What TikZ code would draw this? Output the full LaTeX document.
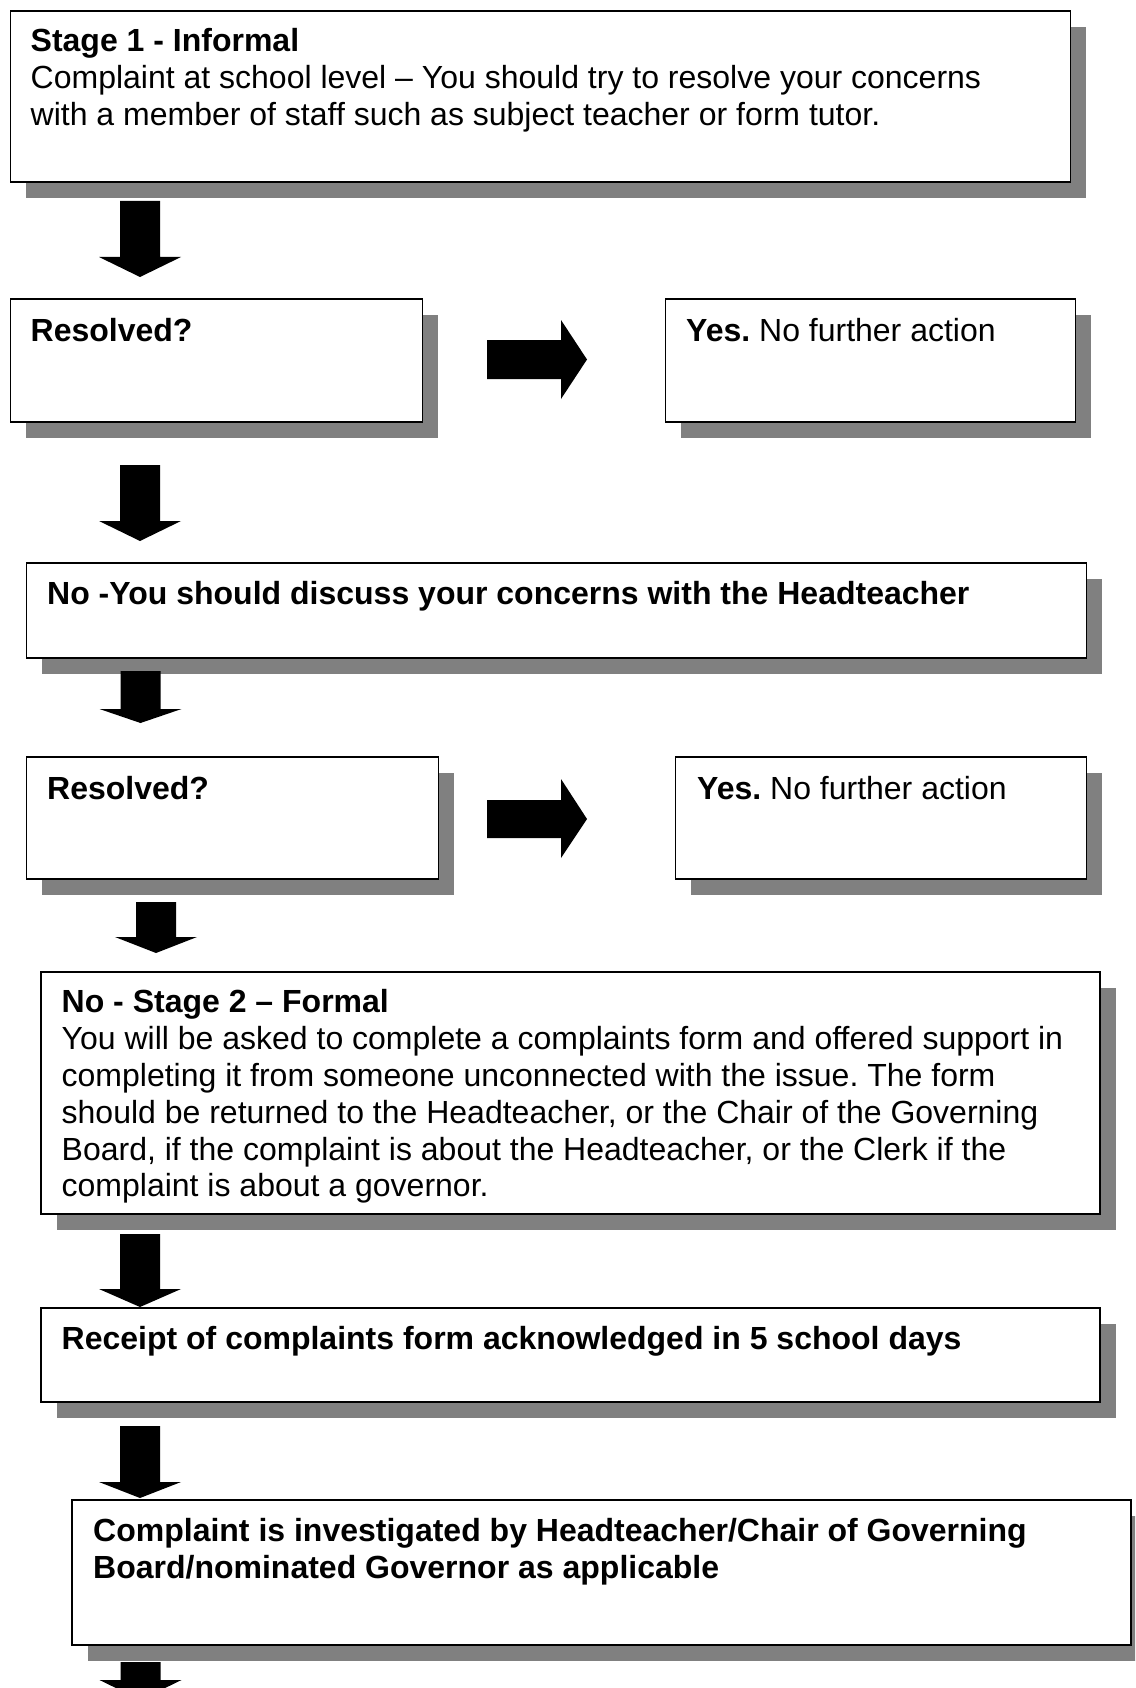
\documentclass[tikz,border=0pt]{standalone}
\usepackage{fontspec}
\setmainfont{Liberation Sans}
\usetikzlibrary{shadows}
\definecolor{shadowgray}{RGB}{128,128,128}
\frenchspacing
\tikzset{
  box/.style={draw=black, line width=1.6pt, fill=white, anchor=north west, inner sep=0pt,
    drop shadow={shadow xshift=16pt, shadow yshift=-16pt, fill=shadowgray, opacity=1}},
  txt/.style={anchor=north west, inner sep=0pt, align=left, font=\fontsize{32}{36.8}\selectfont},
  blockarrow/.style={fill=black, draw=none}
}
\begin{document}
\begin{tikzpicture}[x=1pt,y=-1pt]
\useasboundingbox (0,0) rectangle (1135,1688);
\clip (0,0) rectangle (1135,1688);
% boxes
\node[box, minimum width=1060pt, minimum height=171pt] (b1) at (9.5,10) {};
\node[box, minimum width=412pt, minimum height=123pt] (r1) at (9.5,298) {};
\node[box, minimum width=410pt, minimum height=123pt] (y1) at (664.5,298) {};
\node[box, minimum width=1060pt, minimum height=95pt] (h) at (25.5,562) {};
\node[box, minimum width=412pt, minimum height=122pt] (r2) at (25.5,756) {};
\node[box, minimum width=411pt, minimum height=122pt] (y2) at (674.5,756) {};
\node[box, minimum width=1059pt, minimum height=242pt] (s2) at (40,971) {};
\node[box, minimum width=1059pt, minimum height=94pt] (rc) at (40,1307) {};
\node[box, minimum width=1059pt, minimum height=145pt] (ci) at (71,1499) {};
% texts
\node[txt] (b1t) at (30.5,28.5) {\textbf{Stage 1 - Informal}\\Complaint at school level – You should try to resolve your concerns\\with a member of staff such as subject teacher or form tutor.};
\node[txt] (r1t) at (30.5,318) {\textbf{Resolved?}};
\node[txt] (y1t) at (686,318) {\textbf{Yes.} No further action};
\node[txt] (ht) at (47,581.5) {\textbf{No -You should discuss your concerns with the Headteacher}};
\node[txt] (r2t) at (47,776.5) {\textbf{Resolved?}};
\node[txt] (y2t) at (697,776.5) {\textbf{Yes.} No further action};
\node[txt] (s2t) at (61.5,989.5) {\textbf{No - Stage 2 – Formal}\\You will be asked to complete a complaints form and offered support in\\completing it from someone unconnected with the issue. The form\\should be returned to the Headteacher, or the Chair of the Governing\\Board, if the complaint is about the Headteacher, or the Clerk if the\\complaint is about a governor.};
\node[txt] (rct) at (61.5,1326.5) {\textbf{Receipt of complaints form acknowledged in 5 school days}};
\node[txt] (cit) at (93,1518) {\textbf{Complaint is investigated by Headteacher/Chair of Governing}\\\textbf{Board/nominated Governor as applicable}};
% down block arrows
\newcommand{\downarrowblk}[4]{% center x, shaft top, head start, tip
  \fill[blockarrow] (#1-20,#2) -- (#1+20,#2) -- (#1+20,#3) -- (#1+41,#3) -- (#1,#4) -- (#1-41,#3) -- (#1-20,#3) -- cycle;}
\downarrowblk{140}{201}{257}{277}
\downarrowblk{140}{465}{521}{541}
\downarrowblk{140.5}{671}{709}{723}
\downarrowblk{156}{902}{937}{953}
\downarrowblk{140}{1234}{1289}{1307}
\downarrowblk{140}{1426}{1482}{1498}
\downarrowblk{140.5}{1662}{1680}{1700}
% right block arrows
\fill[blockarrow] (487,340) -- (561,340) -- (561,320) -- (587,359.5) -- (561,399) -- (561,379) -- (487,379) -- cycle;
\fill[blockarrow] (487,800) -- (561,800) -- (561,779) -- (587,819) -- (561,858) -- (561,838) -- (487,838) -- cycle;
\end{tikzpicture}
\end{document}
